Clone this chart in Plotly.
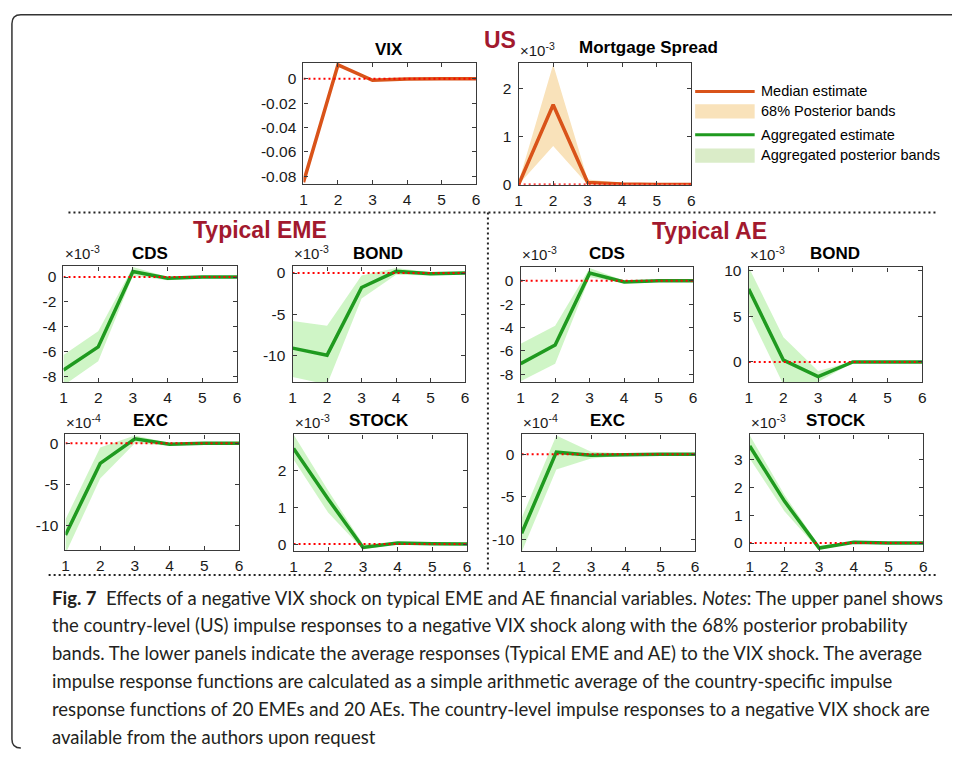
import plotly.graph_objects as go

W, H = 956, 757


def px(x):
    return x / W


def py(y):
    return 1 - y / H


# ---------------- data ----------------
horizon = [1, 2, 3, 4, 5, 6]
x_ticklabels = ["1", "2", "3", "4", "5", "6"]

# US panel
vix_median = [-0.0848, 0.0115, -0.0012, -0.0002, 0.0, 0.0]
mort_median = [0.0, 1.66, 0.04, 0.01, 0.0, 0.0]          # x 10^-3
mort_lower = [0.0, 0.80, 0.0, 0.0, 0.0, 0.0]
mort_upper = [0.05, 2.50, 0.10, 0.03, 0.01, 0.0]

# Typical EME
cds_eme = [-7.45, -5.6, 0.45, -0.1, 0.0, 0.0]            # x 10^-3
cds_eme_lo = [-8.7, -6.75, 0.1, -0.25, -0.1, -0.05]
cds_eme_hi = [-6.25, -4.35, 0.8, 0.0, 0.08, 0.05]

bond_eme = [-9.1, -9.95, -1.75, 0.2, -0.1, 0.0]          # x 10^-3
bond_eme_lo = [-12.6, -13.5, -3.1, -0.2, -0.3, -0.1]
bond_eme_hi = [-5.8, -6.4, -0.3, 0.6, 0.1, 0.1]

exc_eme = [-11.2, -2.45, 0.55, -0.1, 0.0, 0.0]           # x 10^-4
exc_eme_lo = [-13.5, -4.3, 0.0, -0.3, -0.1, -0.1]
exc_eme_hi = [-9.3, -0.5, 0.95, 0.05, 0.1, 0.1]

stock_eme = [2.6, 1.22, -0.09, 0.03, 0.01, 0.0]          # x 10^-3
stock_eme_lo = [2.3, 0.85, -0.15, 0.0, -0.01, -0.01]
stock_eme_hi = [2.98, 1.45, 0.0, 0.06, 0.03, 0.02]

# Typical AE
cds_ae = [-7.1, -5.5, 0.65, -0.1, 0.0, 0.0]              # x 10^-3
cds_ae_lo = [-8.6, -7.1, 0.3, -0.2, -0.05, -0.05]
cds_ae_hi = [-5.4, -3.85, 1.1, 0.0, 0.05, 0.05]

bond_ae = [8.0, 0.2, -1.6, 0.0, 0.0, 0.0]                # x 10^-3
bond_ae_lo = [5.4, -2.5, -2.2, -0.05, -0.03, -0.03]
bond_ae_hi = [10.4, 2.7, -1.0, 0.05, 0.03, 0.03]

exc_ae = [-9.3, 0.25, -0.1, 0.0, 0.0, 0.0]               # x 10^-4
exc_ae_lo = [-11.5, -1.8, -0.5, -0.1, -0.05, -0.05]
exc_ae_hi = [-7.5, 2.2, 0.3, 0.1, 0.05, 0.05]

stock_ae = [3.47, 1.5, -0.18, 0.03, 0.0, 0.0]            # x 10^-3
stock_ae_lo = [3.02, 1.14, -0.25, 0.0, -0.02, -0.02]
stock_ae_hi = [3.85, 1.73, -0.1, 0.06, 0.02, 0.02]

# tick values / labels
vix_ticks = [0, -0.02, -0.04, -0.06, -0.08]
vix_ticklabels = ["0", "-0.02", "-0.04", "-0.06", "-0.08"]
mort_ticks = [0, 1, 2]
mort_ticklabels = ["0", "1", "2"]
cds_ticks = [0, -2, -4, -6, -8]
cds_ticklabels = ["0", "-2", "-4", "-6", "-8"]
bond_eme_ticks = [0, -5, -10]
bond_eme_ticklabels = ["0", "-5", "-10"]
exc_ticks = [0, -5, -10]
exc_ticklabels = ["0", "-5", "-10"]
stock_eme_ticks = [0, 1, 2]
stock_eme_ticklabels = ["0", "1", "2"]
bond_ae_ticks = [0, 5, 10]
bond_ae_ticklabels = ["0", "5", "10"]
stock_ae_ticks = [0, 1, 2, 3]
stock_ae_ticklabels = ["0", "1", "2", "3"]

caption_lines = [
    "<b>Fig. 7</b>  Effects of a negative VIX shock on typical EME and AE financial variables. <i>Notes</i>: The upper panel shows",
    "the country-level (US) impulse responses to a negative VIX shock along with the 68% posterior probability",
    "bands. The lower panels indicate the average responses (Typical EME and AE) to the VIX shock. The average",
    "impulse response functions are calculated as a simple arithmetic average of the country-specific impulse",
    "response functions of 20 EMEs and 20 AEs. The country-level impulse responses to a negative VIX shock are",
    "available from the authors upon request",
]

# ---------------- styling ----------------
ORANGE = "#D95319"
ORANGE_BAND = "rgb(249,226,186)"
GREEN = "#1f9a1f"
GREEN_BAND = "rgba(140,230,120,0.42)"
DARKRED = "#A2192E"
FRAME = "#3a3a3a"
AXFONT = "Liberation Sans, Arial, sans-serif"
CAPFONT = "Lato, sans-serif"

panels = [
    dict(title="VIX", box=(302, 476, 59, 182), yr=[-0.0862, 0.013], tv=vix_ticks, tt=vix_ticklabels,
         est=vix_median, lo=None, hi=None, col=ORANGE, band=ORANGE_BAND, mult=None, tx=388, ty=45),
    dict(title="Mortgage Spread", box=(519, 693, 59, 183), yr=[-0.01, 2.53], tv=mort_ticks, tt=mort_ticklabels,
         est=mort_median, lo=mort_lower, hi=mort_upper, col=ORANGE, band=ORANGE_BAND, mult="-3", tx=650, ty=43),
    dict(title="CDS", box=(60, 235, 266, 384), yr=[-8.45, 0.85], tv=cds_ticks, tt=cds_ticklabels,
         est=cds_eme, lo=cds_eme_lo, hi=cds_eme_hi, col=GREEN, band=GREEN_BAND, mult="-3", tx=147, ty=253),
    dict(title="BOND", box=(291, 465, 266, 384), yr=[-13.25, 0.8], tv=bond_eme_ticks, tt=bond_eme_ticklabels,
         est=bond_eme, lo=bond_eme_lo, hi=bond_eme_hi, col=GREEN, band=GREEN_BAND, mult="-3", tx=377, ty=253),
    dict(title="EXC", box=(62, 237, 437, 555), yr=[-13.1, 1.08], tv=exc_ticks, tt=exc_ticklabels,
         est=exc_eme, lo=exc_eme_lo, hi=exc_eme_hi, col=GREEN, band=GREEN_BAND, mult="-4", tx=148, ty=423),
    dict(title="STOCK", box=(292, 467, 437, 556), yr=[-0.2, 2.98], tv=stock_eme_ticks, tt=stock_eme_ticklabels,
         est=stock_eme, lo=stock_eme_lo, hi=stock_eme_hi, col=GREEN, band=GREEN_BAND, mult="-3", tx=378, ty=423),
    dict(title="CDS", box=(521, 695, 267, 384), yr=[-8.7, 1.14], tv=cds_ticks, tt=cds_ticklabels,
         est=cds_ae, lo=cds_ae_lo, hi=cds_ae_hi, col=GREEN, band=GREEN_BAND, mult="-3", tx=608, ty=253),
    dict(title="BOND", box=(751, 926, 267, 384), yr=[-2.24, 10.37], tv=bond_ae_ticks, tt=bond_ae_ticklabels,
         est=bond_ae, lo=bond_ae_lo, hi=bond_ae_hi, col=GREEN, band=GREEN_BAND, mult="-3", tx=838, ty=253),
    dict(title="EXC", box=(522, 697, 437, 556), yr=[-11.44, 2.33], tv=exc_ticks, tt=exc_ticklabels,
         est=exc_ae, lo=exc_ae_lo, hi=exc_ae_hi, col=GREEN, band=GREEN_BAND, mult="-4", tx=609, ty=423),
    dict(title="STOCK", box=(752, 927, 437, 556), yr=[-0.3, 3.88], tv=stock_ae_ticks, tt=stock_ae_ticklabels,
         est=stock_ae, lo=stock_ae_lo, hi=stock_ae_hi, col=GREEN, band=GREEN_BAND, mult="-3", tx=839, ty=423),
]

fig = go.Figure()
layout = dict(
    width=W, height=H, margin=dict(l=0, r=0, t=0, b=0, pad=0),
    paper_bgcolor="white", plot_bgcolor="white", showlegend=False,
    font=dict(family=AXFONT, color="#1a1a1a"),
)
annotations = []
shapes = []

for i, p in enumerate(panels):
    n = "" if i == 0 else str(i + 1)
    xa, ya = "x" + n, "y" + n
    x0, x1, y0, y1 = p["box"]
    if p["lo"] is not None:
        fig.add_trace(go.Scatter(
            x=horizon + horizon[::-1], y=p["lo"] + p["hi"][::-1], fill="toself",
            fillcolor=p["band"], line=dict(width=0), mode="lines", hoverinfo="skip",
            xaxis=xa, yaxis=ya))
    fig.add_trace(go.Scatter(x=horizon, y=p["est"], mode="lines",
                             line=dict(color=p["col"], width=3.5), xaxis=xa, yaxis=ya))
    fig.add_trace(go.Scatter(x=horizon, y=[0 for _ in horizon], mode="lines",
                             line=dict(color="red", width=2, dash="2px,3px"), xaxis=xa, yaxis=ya))
    common = dict(showline=True, linecolor=FRAME, linewidth=1.2, mirror="ticks", ticks="inside",
                  ticklen=4, tickcolor=FRAME, tickwidth=1, showgrid=False, zeroline=False,
                  tickfont=dict(family=AXFONT, size=15.5, color="#1a1a1a"), fixedrange=True)
    layout["xaxis" + n] = dict(domain=[px(x0), px(x1)], range=[1, 6], anchor=ya,
                               tickvals=horizon, ticktext=x_ticklabels, ticklabelstandoff=1, **common)
    layout["yaxis" + n] = dict(domain=[py(y1), py(y0)], range=p["yr"], anchor=xa,
                               tickvals=p["tv"], ticktext=p["tt"], ticklabelstandoff=3, **common)
    annotations.append(dict(text="<b>%s</b>" % p["title"], x=px(p["tx"]), y=py(p["ty"]),
                            xref="paper", yref="paper", xanchor="center", yanchor="middle",
                            showarrow=False, font=dict(family=AXFONT, size=17, color="black")))
    if p["mult"]:
        annotations.append(dict(text="×10<sup>%s</sup>" % p["mult"], x=px(x0 - 1), y=py(y0 - 2),
                                xref="paper", yref="paper", xanchor="left", yanchor="bottom",
                                showarrow=False, font=dict(family=AXFONT, size=15, color="#1a1a1a")))

# group headings
for txt, cx, cy in [("US", 500, 36), ("Typical EME", 258, 229), ("Typical AE", 711, 230)]:
    annotations.append(dict(text="<b>%s</b>" % txt, x=px(cx), y=py(cy), xref="paper", yref="paper",
                            xanchor="center", yanchor="middle", showarrow=False,
                            font=dict(family=AXFONT, size=23, color=DARKRED)))

# legend (drawn manually beside the Mortgage Spread panel)
legend_items = [("Median estimate", "line", ORANGE, 88),
                ("68% Posterior bands", "band", ORANGE_BAND, 108),
                ("Aggregated estimate", "line", GREEN, 132),
                ("Aggregated posterior bands", "band", "rgb(218,236,200)", 153)]
for label, kind, col, yc in legend_items:
    if kind == "line":
        shapes.append(dict(type="line", xref="paper", yref="paper", x0=px(697), x1=px(757),
                           y0=py(yc), y1=py(yc), line=dict(color=col, width=3)))
    else:
        shapes.append(dict(type="rect", xref="paper", yref="paper", x0=px(697), x1=px(757),
                           y0=py(yc + 7.5), y1=py(yc - 7), fillcolor=col, line=dict(width=0)))
    annotations.append(dict(text=label, x=px(761), y=py(yc), xref="paper", yref="paper",
                            xanchor="left", yanchor="middle", showarrow=False,
                            font=dict(family=AXFONT, size=14.5, color="black")))

# dotted separators
dot = dict(color="#222222", width=2, dash="2px,3px")
shapes += [
    dict(type="line", xref="paper", yref="paper", x0=px(65), x1=px(940), y0=py(211), y1=py(211), line=dot),
    dict(type="line", xref="paper", yref="paper", x0=px(488), x1=px(488), y0=py(211), y1=py(576), line=dot),
    dict(type="line", xref="paper", yref="paper", x0=px(45), x1=px(940), y0=py(580), y1=py(580), line=dot),
]

# outer rounded frame (top and left edges)
path = "M %f,%f L %f,%f Q %f,%f %f,%f L %f,%f Q %f,%f %f,%f" % (
    px(956), py(10), px(17), py(10), px(8), py(10), px(8), py(19),
    px(8), py(747), px(8), py(756), px(17), py(756))
shapes.append(dict(type="path", xref="paper", yref="paper", path=path,
                   line=dict(color="#333333", width=1.5)))

# caption
for k, line in enumerate(caption_lines):
    annotations.append(dict(text=line, x=px(46), y=py(603 + 28.3 * k), xref="paper", yref="paper",
                            xanchor="left", yanchor="middle", showarrow=False, align="left",
                            font=dict(family=CAPFONT, size=18.5, color="#231f20")))

layout["annotations"] = annotations
layout["shapes"] = shapes
fig.update_layout(**layout)
fig.write_html("out.html", config={"displayModeBar": False})
